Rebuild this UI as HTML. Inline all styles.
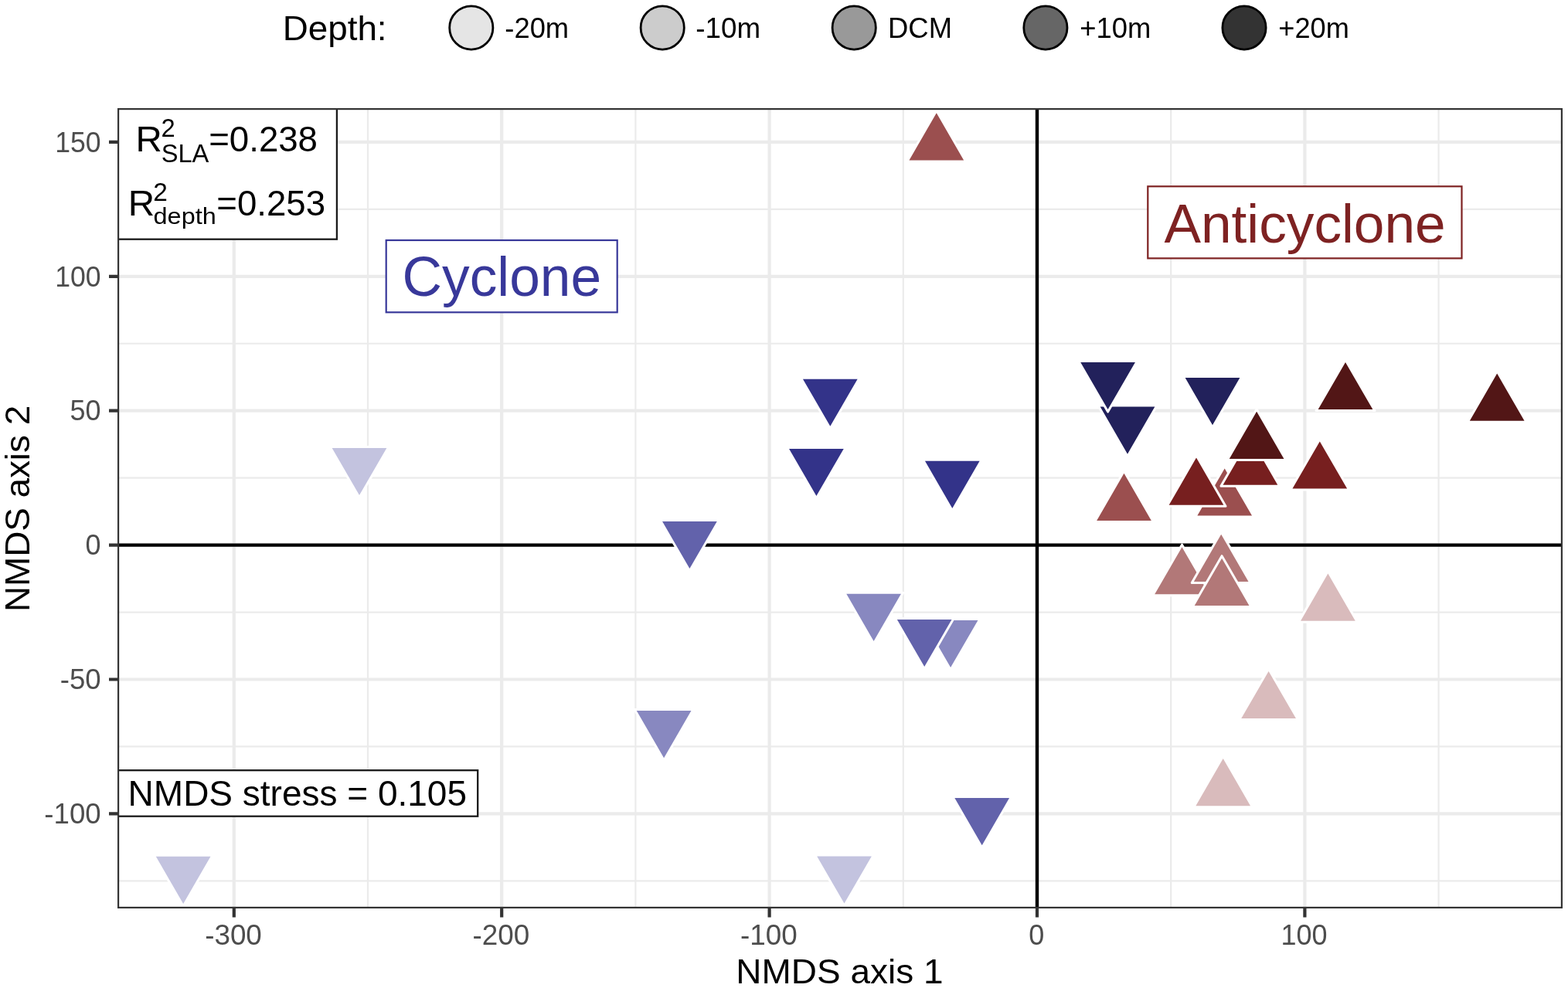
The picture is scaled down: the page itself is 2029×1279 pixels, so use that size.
<!DOCTYPE html><html><head><meta charset="utf-8"><title>NMDS plot</title>
<style>html,body{margin:0;padding:0;background:#fff;}svg{display:block;}text{font-family:"Liberation Sans", Arial, Helvetica, sans-serif;}</style></head><body>
<svg width="2029" height="1279" viewBox="0 0 2029 1279">
<rect x="0" y="0" width="2029" height="1279" fill="#fff"/>
<defs><clipPath id="pc"><rect x="152" y="140" width="1870" height="1036"/></clipPath></defs>
<path d="M476.00 140V1176M822.40 140V1176M1168.80 140V1176M1515.20 140V1176M1861.60 140V1176M152 270.85H2022M152 444.75H2022M152 618.65H2022M152 792.55H2022M152 966.45H2022M152 1140.35H2022" stroke="#EBEBEB" stroke-width="2.2" fill="none"/>
<path d="M302.80 140V1176M649.20 140V1176M995.60 140V1176M1342.00 140V1176M1688.40 140V1176M152 183.90H2022M152 357.80H2022M152 531.70H2022M152 705.60H2022M152 879.50H2022M152 1053.40H2022" stroke="#EBEBEB" stroke-width="4.2" fill="none"/>
<path d="M152 705.60H2022M1342.00 140V1176" stroke="#000" stroke-width="4.4" fill="none"/>
<g stroke="#fff" stroke-width="3" stroke-linejoin="round" clip-path="url(#pc)">
<polygon points="237.15,1172.92 275.10,1107.19 199.20,1107.19" fill="#C3C3DF"/>
<polygon points="465.00,644.12 502.95,578.39 427.05,578.39" fill="#C3C3DF"/>
<polygon points="1092.50,1172.62 1130.45,1106.89 1054.55,1106.89" fill="#C3C3DF"/>
<polygon points="859.10,984.22 897.05,918.49 821.15,918.49" fill="#8888C0"/>
<polygon points="1130.60,833.02 1168.55,767.29 1092.65,767.29" fill="#8888C0"/>
<polygon points="1230.10,867.12 1268.05,801.39 1192.15,801.39" fill="#8888C0"/>
<polygon points="892.40,739.12 930.35,673.39 854.45,673.39" fill="#6262AB"/>
<polygon points="1196.20,866.12 1234.15,800.39 1158.25,800.39" fill="#6262AB"/>
<polygon points="1270.70,1097.32 1308.65,1031.59 1232.75,1031.59" fill="#6262AB"/>
<polygon points="1056.40,645.12 1094.35,579.39 1018.45,579.39" fill="#333389"/>
<polygon points="1074.30,554.87 1112.25,489.14 1036.35,489.14" fill="#333389"/>
<polygon points="1232.30,660.92 1270.25,595.19 1194.35,595.19" fill="#333389"/>
<polygon points="1459.00,590.82 1496.95,525.09 1421.05,525.09" fill="#22215B"/>
<polygon points="1433.60,533.12 1471.55,467.39 1395.65,467.39" fill="#22215B"/>
<polygon points="1569.00,553.32 1606.95,487.59 1531.05,487.59" fill="#22215B"/>
<polygon points="1718.40,739.48 1756.35,805.21 1680.45,805.21" fill="#D9BBBC"/>
<polygon points="1641.60,865.88 1679.55,931.61 1603.65,931.61" fill="#D9BBBC"/>
<polygon points="1582.70,978.98 1620.65,1044.71 1544.75,1044.71" fill="#D9BBBC"/>
<polygon points="1529.50,705.13 1567.45,770.86 1491.55,770.86" fill="#B27878"/>
<polygon points="1580.20,688.68 1618.15,754.41 1542.25,754.41" fill="#B27878"/>
<polygon points="1581.10,719.68 1619.05,785.41 1543.15,785.41" fill="#B27878"/>
<polygon points="1211.80,143.18 1249.75,208.91 1173.85,208.91" fill="#9B4F4F"/>
<polygon points="1454.50,609.73 1492.45,675.46 1416.55,675.46" fill="#9B4F4F"/>
<polygon points="1584.70,603.38 1622.65,669.11 1546.75,669.11" fill="#9B4F4F"/>
<polygon points="1548.00,589.58 1585.95,655.31 1510.05,655.31" fill="#771F1F"/>
<polygon points="1617.90,563.58 1655.85,629.31 1579.95,629.31" fill="#771F1F"/>
<polygon points="1707.80,568.38 1745.75,634.11 1669.85,634.11" fill="#771F1F"/>
<polygon points="1626.10,529.78 1664.05,595.51 1588.15,595.51" fill="#521616"/>
<polygon points="1741.00,465.88 1778.95,531.61 1703.05,531.61" fill="#521616"/>
<polygon points="1937.20,480.58 1975.15,546.31 1899.25,546.31" fill="#521616"/>
</g>
<g clip-path="url(#pc)">
<rect x="151" y="139" width="284.90" height="170.70" fill="#fff" stroke="#1a1a1a" stroke-width="2.3"/>
<rect x="499.7" y="311.0" width="299.0" height="93.3" fill="#fff" stroke="#38389A" stroke-width="2.2"/>
<rect x="1485.3" y="241.3" width="406.2" height="93.1" fill="#fff" stroke="#7E2222" stroke-width="2.2"/>
<rect x="151" y="997.2" width="467.20" height="59.50" fill="#fff" stroke="#1a1a1a" stroke-width="2.3"/>
</g>
<rect x="153.1" y="141.1" width="1867.8" height="1033.8" fill="none" stroke="#333" stroke-width="2.2"/>
<path d="M302.80 1176V1187.6M649.20 1176V1187.6M995.60 1176V1187.6M1342.00 1176V1187.6M1688.40 1176V1187.6M141 183.90H152M141 357.80H152M141 531.70H152M141 705.60H152M141 879.50H152M141 1053.40H152" stroke="#333" stroke-width="4.2" fill="none"/>
<circle cx="609.80" cy="35.96" r="28.1" fill="#E5E5E5" stroke="#000" stroke-width="2.8"/>
<circle cx="857.20" cy="35.96" r="28.1" fill="#CCCCCC" stroke="#000" stroke-width="2.8"/>
<circle cx="1105.20" cy="35.96" r="28.1" fill="#999999" stroke="#000" stroke-width="2.8"/>
<circle cx="1352.90" cy="35.96" r="28.1" fill="#666666" stroke="#000" stroke-width="2.8"/>
<circle cx="1610.00" cy="35.96" r="28.1" fill="#333333" stroke="#000" stroke-width="2.8"/>
<text transform="translate(130.6 196.60) scale(0.990 1.041)" font-size="36" fill="#4D4D4D" text-anchor="end">150</text>
<text transform="translate(130.6 370.50) scale(0.990 1.041)" font-size="36" fill="#4D4D4D" text-anchor="end">100</text>
<text transform="translate(130.6 544.40) scale(1.000 1.041)" font-size="36" fill="#4D4D4D" text-anchor="end">50</text>
<text transform="translate(130.6 718.30) scale(1.000 1.041)" font-size="36" fill="#4D4D4D" text-anchor="end">0</text>
<text transform="translate(130.6 892.20) scale(1.017 1.041)" font-size="36" fill="#4D4D4D" text-anchor="end">-50</text>
<text transform="translate(130.6 1066.10) scale(1.017 1.041)" font-size="36" fill="#4D4D4D" text-anchor="end">-100</text>
<text transform="translate(302.00 1222.9) scale(1.023 1.042)" font-size="36" fill="#4D4D4D" text-anchor="middle">-300</text>
<text transform="translate(648.40 1222.9) scale(1.023 1.042)" font-size="36" fill="#4D4D4D" text-anchor="middle">-200</text>
<text transform="translate(994.80 1222.9) scale(1.023 1.042)" font-size="36" fill="#4D4D4D" text-anchor="middle">-100</text>
<text transform="translate(1341.20 1222.9) scale(1.000 1.042)" font-size="36" fill="#4D4D4D" text-anchor="middle">0</text>
<text transform="translate(1687.60 1222.9) scale(1.000 1.042)" font-size="36" fill="#4D4D4D" text-anchor="middle">100</text>
<text transform="translate(952.28 1273.40) scale(1.0216 1.0016)" font-size="45" fill="#000">NMDS axis 1</text>
<text transform="translate(38.00 792.02) rotate(-90) scale(1.0178 0.9891)" font-size="45" fill="#000">NMDS axis 2</text>
<text transform="translate(365.71 52.16) scale(1.0173 0.9826)" font-size="45" fill="#000">Depth:</text>
<text transform="translate(653.37 48.91) scale(1.0087 1.0104)" font-size="36" fill="#000">-20m</text>
<text transform="translate(900.33 49.11) scale(1.0220 1.0231)" font-size="36" fill="#000">-10m</text>
<text transform="translate(1149.01 48.88) scale(1.0124 1.0151)" font-size="36" fill="#000">DCM</text>
<text transform="translate(1397.16 48.56) scale(1.0114 1.0165)" font-size="36" fill="#000">+10m</text>
<text transform="translate(1654.34 49.15) scale(1.0051 1.0167)" font-size="36" fill="#000">+20m</text>
<text transform="translate(175.50 195.90) scale(1.0546 1.0327)" font-size="45" fill="#000">R</text>
<text transform="translate(208.42 176.79) scale(1.0235 1.0245)" font-size="32" fill="#000">2</text>
<text transform="translate(208.64 209.72) scale(1.0202 1.0290)" font-size="32" fill="#000">SLA</text>
<text transform="translate(270.21 196.00) scale(1.0141 1.0443)" font-size="45" fill="#000">=0.238</text>
<text transform="translate(165.67 279.10) scale(1.0591 1.0330)" font-size="45" fill="#000">R</text>
<text transform="translate(198.21 260.00) scale(1.0449 1.0528)" font-size="32" fill="#000">2</text>
<text transform="translate(198.57 290.34) scale(1.0140 0.9389)" font-size="32" fill="#000">depth</text>
<text transform="translate(280.37 279.19) scale(1.0133 1.0414)" font-size="45" fill="#000">=0.253</text>
<text transform="translate(520.62 383.00) scale(1.0040 1.0118)" font-size="71" fill="#38389A">Cyclone</text>
<text transform="translate(1506.49 313.75) scale(0.9893 0.9804)" font-size="72" fill="#7E2222">Anticyclone</text>
<text transform="translate(165.62 1043.00) scale(1.0225 1.0323)" font-size="45" fill="#000">NMDS stress = 0.105</text>
</svg></body></html>
